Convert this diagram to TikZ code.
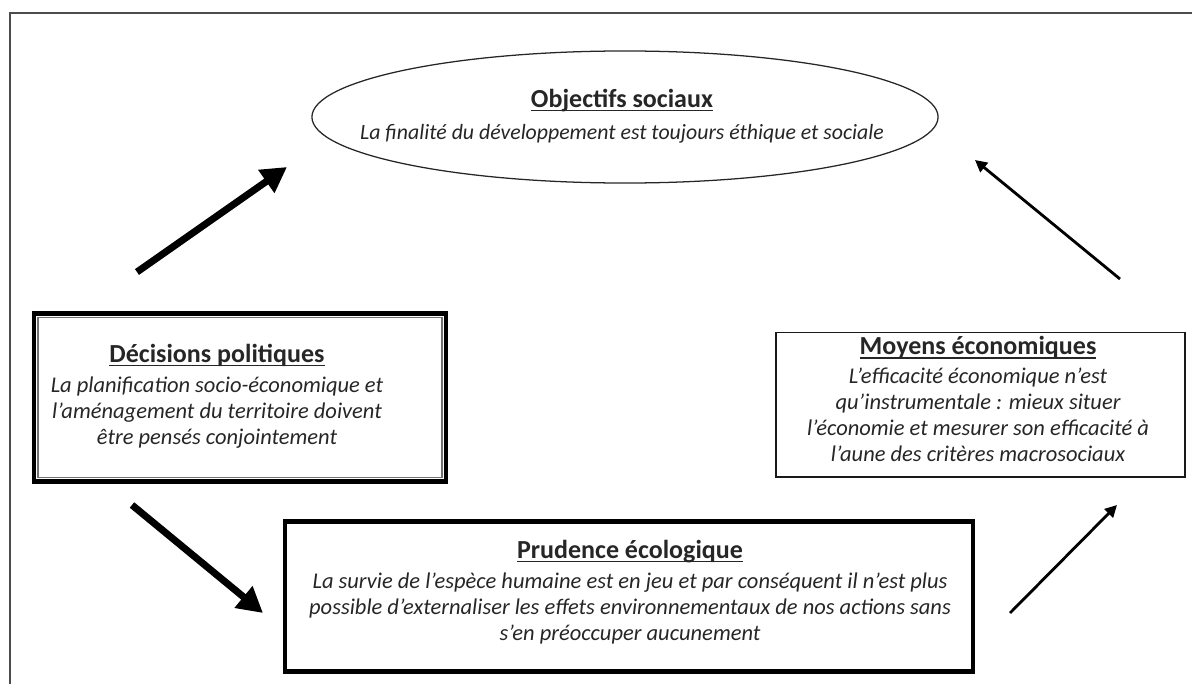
\documentclass[tikz,border=0pt]{standalone}
\usepackage{fontspec}
\setmainfont{Carlito}
\usetikzlibrary{arrows.meta,calc,positioning,shapes.geometric}

\newsavebox\titrebox
\newcommand{\titre}[1]{\sbox\titrebox{\bfseries #1}\rlap{\rule[-3pt]{\wd\titrebox}{1.1pt}}\usebox\titrebox}
\newcommand{\tfont}{\upshape\fontsize{18.5}{21}\selectfont}

\tikzset{
  texte/.style={align=center,text=black!85,inner sep=0pt,
    font=\fontsize{16}{18.5}\selectfont\itshape},
  boite/.style={rectangle,inner sep=0pt,draw=black!90},
  fleche grosse/.style={line width=5pt,-{Triangle[length=18pt,width=19pt]}},
  fleche fine/.style={line width=2pt,-{Triangle[length=8.5pt,width=8.5pt]}},
}

\begin{document}
\begin{tikzpicture}[x=0.025cm,y=-0.025cm]
  \useasboundingbox (0,0) rectangle (1192,684);

  % cadre general
  \draw[black!70,line width=1.3pt] (1200,13) -- (10,13) -- (10,700);

  % Objectifs sociaux
  \node[ellipse,draw=black!85,line width=0.9pt,minimum width=15.65cm,
        minimum height=3.3cm,inner sep=0pt] (objectifs) at (625,117) {};
  \node[texte,font=\fontsize{15.5}{18}\selectfont\itshape] (objectifs-txt) at (622,116)
    {{\tfont\titre{Objectifs sociaux}}\\[5pt]
     La finalité du développement est toujours éthique et sociale};

  % Decisions politiques (double cadre)
  \node[boite,draw=black,line width=3pt,minimum width=10.3cm,
        minimum height=4.2cm] (decisions) at (240,397.5) {};
  \draw[black!55,line width=1pt]
    ($(decisions.south west)+(6,-6)$) rectangle ($(decisions.north east)+(-6,6)$);
  \node[texte] (decisions-txt) at (217,396)
    {{\tfont\titre{Décisions politiques}}\\[3pt]
     La planification socio-économique et\\
     l’aménagement du territoire doivent\\
     être pensés conjointement};

  % Moyens economiques
  \node[boite,line width=1.4pt,minimum width=10.2cm,
        minimum height=3.6cm] (moyens) at (980.5,404.5) {};
  \node[texte] (moyens-txt) at (978,399)
    {{\tfont\titre{Moyens économiques}}\\[2pt]
     L’efficacité économique n’est\\
     qu’instrumentale : mieux situer\\
     l’économie et mesurer son efficacité à\\
     l’aune des critères macrosociaux};

  % Prudence ecologique
  \node[boite,draw=black,line width=3.2pt,minimum width=17.2cm,
        minimum height=3.75cm] (prudence) at (629,596.5) {};
  \node[texte] (prudence-txt) at (630,592)
    {{\tfont\titre{Prudence écologique}}\\[3pt]
     La survie de l’espèce humaine est en jeu et par conséquent il n’est plus\\
     possible d’externaliser les effets environnementaux de nos actions sans\\
     s’en préoccuper aucunement};

  % extremites des fleches
  \coordinate (dec-haut) at (137,272);
  \coordinate (obj-gauche) at (287,167);
  \coordinate (dec-bas) at (132,505);
  \coordinate (pru-gauche) at (263,613);
  \coordinate (pru-droite) at (1010,613);
  \coordinate (moy-bas) at (1117,505);
  \coordinate (moy-haut) at (1120,279);
  \coordinate (obj-droite) at (975,160);

  % fleches
  \draw[fleche grosse] (dec-haut) -- (obj-gauche);
  \draw[fleche grosse] (dec-bas) -- (pru-gauche);
  \draw[fleche fine] (pru-droite) -- (moy-bas);
  \draw[fleche fine] (moy-haut) -- (obj-droite);
\end{tikzpicture}
\end{document}
